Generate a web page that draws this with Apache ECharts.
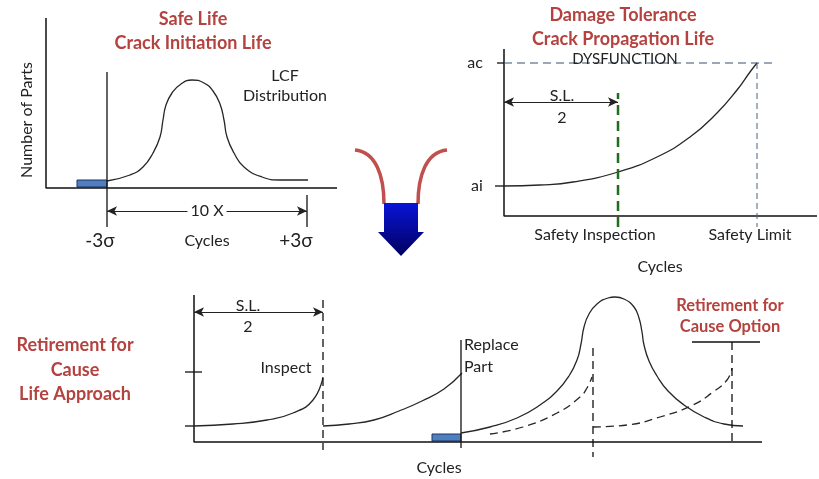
<!DOCTYPE html>
<html>
<head>
<meta charset="utf-8">
<script src="https://cdn.jsdelivr.net/npm/echarts@6.0.0/dist/echarts.min.js"></script>
<style>
  html, body { margin: 0; padding: 0; background: #fff; }
  #chart { width: 819px; height: 479px; }
</style>
</head>
<body>
<div id="chart"></div>
<script>
// panel 1 - safe life (x: cycles offset, y: number of parts)
const lcfBell = [[61,7],[84,13],[97,21],[107,35],[114,51],[117,68],[120,83],[126,95],[135,104],[146,108],[158,105],[167,97],[174,84],[178,68],[181,51],[188,35],[198,21],[216,11],[234,8],[262,8]];
const lcfLowTail = [[31,1],[61,8]];          // blue block, below -3 sigma
const sigmaMarks = [61, 261];                // -3σ / +3σ cycles

// panel 2 - damage tolerance (y: crack size)
const crackSizes = { ai: 30, ac: 153 };
const crackGrowth = [[0,30],[36,31],[69,34],[114,44],[153,59],[186,79],[213,103],[233,126],[246,144],[253,153]];
const inspectionAt = 114;
const safetyLimitAt = 253;

// panel 3 - retirement for cause
const rfcTicks = [16, 70];
const rfcFirst = [[0,16],[39,18],[73,22],[99,29],[119,42],[129,65]];
const rfcSecond = [[129,16],[155,18],[180,22],[205,31],[228,41],[250,53],[268,69]];
const failureDist = [[267,9],[296,15],[323,24],[346,37],[363,51],[375,66],[383,82],[387,98],[390,115],[395,128],[403,138],[414,144],[421,145],[430,143],[440,135],[445,124],[448,110],[450,97],[455,81],[463,66],[474,51],[490,37],[510,25],[530,18],[549,16]];
const inspectedCrack = [[296,8],[329,15],[363,29],[386,45],[393,54],[398,65]];
const rfcOption = [[399,15],[433,17],[466,25],[499,37],[519,50],[533,62],[538,74]];
const replaceLow = [[238,1],[267,8]];
const inspectAt = [129, 399, 538];
const replaceAt = 267;

const RED = '#b4423f';
const FONT = 'Lato, "Open Sans", sans-serif';

const chart = echarts.init(document.getElementById('chart'));

function curve(g, pts, extra) {
  return Object.assign({
    type: 'line', xAxisIndex: g, yAxisIndex: g, data: pts,
    symbol: 'none', clip: false, silent: true, smooth: 0.5,
    lineStyle: { color: '#262626', width: 1.3 }
  }, extra || {});
}
function seg(g, pts, color, width, dash) {
  return curve(g, pts, { smooth: false, lineStyle: { color: color || '#111', width: width || 1.3, type: dash || 'solid' } });
}
function withArrow(s, x1, x2, y) {
  s.markLine = {
    silent: true, symbol: ['arrow', 'arrow'], symbolSize: [7, 10],
    lineStyle: { color: '#222', width: 1.2, type: 'solid' },
    label: { show: false },
    data: [[{ coord: [x1, y] }, { coord: [x2, y] }]]
  };
  return s;
}
function block(s, pts) {
  s.markArea = {
    silent: true,
    itemStyle: { color: '#4f7fc0', borderColor: '#1f3560', borderWidth: 1 },
    data: [[{ coord: pts[0] }, { coord: pts[1] }]]
  };
  return s;
}
function axes(g, x0, x1, y0, y1) {
  const off = { show: false };
  return {
    x: { type: 'value', gridIndex: g, min: x0, max: x1, axisLine: off, axisTick: off, axisLabel: off, splitLine: off },
    y: { type: 'value', gridIndex: g, min: y0, max: y1, axisLine: off, axisTick: off, axisLabel: off, splitLine: off }
  };
}
function frame(g, w, h) {
  return seg(g, [[0, h], [0, 0], [w, 0]], '#111', 1.5);
}

const a1 = axes(0, 0, 291, -45, 170), a2 = axes(1, -12, 313, 0, 167), a3 = axes(2, -12, 568, 0, 147);

function txt(t, x, y, size, opts) {
  opts = opts || {};
  return {
    type: 'text', x: x, y: y, z: 100, rotation: opts.rot || 0,
    style: Object.assign({
      text: t, align: 'center', verticalAlign: 'middle',
      font: (opts.bold ? 'bold ' : '') + size + 'px ' + FONT,
      fill: opts.color || '#222'
    }, opts.style || {})
  };
}

const titles = [
  txt('Safe Life', 193, 19, 18, { bold: true, color: RED }),
  txt('Crack Initiation Life', 193, 43, 18, { bold: true, color: RED }),
  txt('Damage Tolerance', 623, 15, 18, { bold: true, color: RED }),
  txt('Crack Propagation Life', 623, 39, 18, { bold: true, color: RED }),
  txt('Retirement for', 75, 345, 18, { bold: true, color: RED }),
  txt('Cause', 75, 370, 18, { bold: true, color: RED }),
  txt('Life Approach', 75, 394, 18, { bold: true, color: RED }),
  txt('Retirement for', 730, 306, 16.5, { bold: true, color: RED }),
  txt('Cause Option', 730, 327, 16.5, { bold: true, color: RED })
];
const labels = [
  txt('Number of Parts', 27, 120, 16, { rot: Math.PI / 2 }),
  txt('LCF', 285, 76, 16),
  txt('Distribution', 285, 96, 16),
  txt('10 X', 207, 211, 16, { style: { backgroundColor: '#fff', padding: [0, 3] } }),
  txt('-3σ', 100, 241, 19),
  txt('Cycles', 207, 241, 16),
  txt('+3σ', 296, 241, 19),
  txt('ac', 475, 63, 16),
  txt('ai', 477, 186, 16),
  txt('DYSFUNCTION', 625, 59, 15),
  txt('S.L.', 562, 96, 16),
  txt('2', 562, 118, 16),
  txt('Safety Inspection', 595, 235, 16),
  txt('Safety Limit', 750, 235, 16),
  txt('Cycles', 660, 267, 16),
  txt('S.L.', 248, 306, 16),
  txt('2', 248, 327, 16),
  txt('Inspect', 286, 368, 16),
  txt('Replace', 464, 345, 16, { style: { align: 'left' } }),
  txt('Part', 464, 367, 16, { style: { align: 'left' } }),
  txt('Cycles', 439, 468, 16)
];

// the "leads to" arrow in the middle
const funnel = [
  { type: 'bezierCurve', z: 50, shape: { x1: 355, y1: 150, cpx1: 376, cpy1: 152, cpx2: 384, cpy2: 176, x2: 384, y2: 204 }, style: { stroke: '#c0504d', lineWidth: 3.5, fill: null } },
  { type: 'bezierCurve', z: 50, shape: { x1: 447, y1: 150, cpx1: 426, cpy1: 152, cpx2: 418, cpy2: 176, x2: 418, y2: 204 }, style: { stroke: '#c0504d', lineWidth: 3.5, fill: null } },
  { type: 'polygon', z: 51,
    shape: { points: [[384,203],[418,203],[418,232],[424,232],[401,256],[378,232],[384,232]] },
    style: { fill: new echarts.graphic.LinearGradient(0, 0, 0, 1, [{ offset: 0, color: '#0a14d8' }, { offset: 1, color: '#00005e' }]) } }
];

const series = [
  // panel 1
  frame(0, 291, 170),
  block(curve(0, lcfBell), lcfLowTail),
  seg(0, [[sigmaMarks[0], -39], [sigmaMarks[0], 116]]),
  withArrow(seg(0, [[sigmaMarks[1], -7], [sigmaMarks[1], -39]]), sigmaMarks[0], sigmaMarks[1], -23),
  // panel 2
  frame(1, 313, 167),
  seg(1, [[-7, crackSizes.ac], [0, crackSizes.ac]]),
  seg(1, [[-9, crackSizes.ai], [0, crackSizes.ai]]),
  seg(1, [[0, crackSizes.ac], [269, crackSizes.ac]], '#34506f', 1.2, [8, 5]),
  curve(1, crackGrowth),
  seg(1, [[safetyLimitAt, crackSizes.ac], [safetyLimitAt, -11]], '#4a5f7a', 1, [6, 4]),
  withArrow(seg(1, [[inspectionAt, -11], [inspectionAt, 123]], '#1e6e1e', 2.5, [10, 6]), 0, inspectionAt, 114),
  // panel 3
  frame(2, 568, 147),
  seg(2, [[-9, rfcTicks[0]], [0, rfcTicks[0]]]),
  seg(2, [[-9, rfcTicks[1]], [8, rfcTicks[1]]]),
  curve(2, rfcFirst),
  withArrow(seg(2, [[inspectAt[0], 142], [inspectAt[0], -8]], '#111', 1.3, [8, 5]), 0, inspectAt[0], 130),
  curve(2, rfcSecond),
  block(seg(2, [[replaceAt, 102], [replaceAt, -6]]), replaceLow),
  curve(2, failureDist),
  curve(2, inspectedCrack, { lineStyle: { color: '#262626', width: 1.3, type: [8, 5] } }),
  seg(2, [[inspectAt[1], 94], [inspectAt[1], -15]], '#111', 1.3, [8, 5]),
  curve(2, rfcOption, { lineStyle: { color: '#262626', width: 1.3, type: [8, 5] } }),
  seg(2, [[inspectAt[2], 100], [inspectAt[2], 0]], '#111', 1.3, [8, 5]),
  seg(2, [[498, 100], [566, 100]])
];

chart.setOption({
  animation: false,
  backgroundColor: '#fff',
  grid: [
    { left: 46, top: 18, width: 291, height: 215 },
    { left: 492, top: 49, width: 325, height: 167 },
    { left: 182, top: 295, width: 580, height: 147 }
  ],
  xAxis: [a1.x, a2.x, a3.x],
  yAxis: [a1.y, a2.y, a3.y],
  graphic: titles.concat(labels, funnel),
  series: series
});
</script>
</body>
</html>
